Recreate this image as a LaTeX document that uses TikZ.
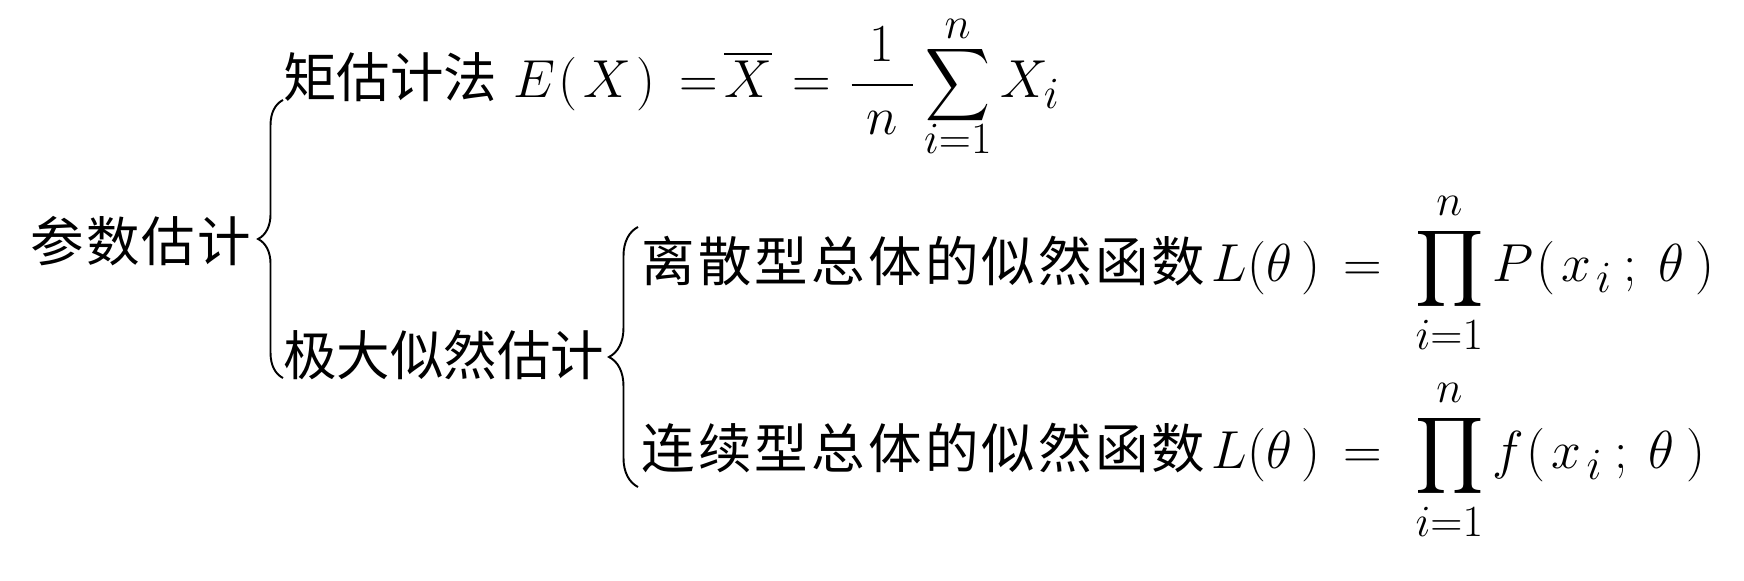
\documentclass[tikz,border=0pt]{standalone}
\usepackage{amsmath}
\usepackage{fontspec}
\newfontfamily\cjk{Noto Sans CJK SC}
\newfontfamily\cjkroot[LetterSpace=4]{Noto Sans CJK SC}
\newfontfamily\cjkwide[LetterSpace=6]{Noto Sans CJK SC}
\usetikzlibrary{decorations.pathreplacing}
\newcommand{\smallsum}{\mathop{\vcenter{\hbox{\scalebox{0.84}[0.95]{$\displaystyle\sum$}}}}\limits}
\newcommand{\lowlim}[1]{\smash{\raisebox{2pt}{$\scriptstyle #1$}}}
\newcommand{\uplim}[1]{\smash{\raisebox{-2.5pt}{$\scriptstyle #1$}}}
\tikzset{
  txt/.style={inner sep=0pt, font=\Huge\cjk},
  bracestyle/.style={decorate, decoration={brace, amplitude=#1, aspect=0.5}, line width=0.9pt},
}
\begin{document}
\begin{tikzpicture}[x=0.465pt, y=-0.465pt]
\useasboundingbox (0,0) rectangle (1744,581);
% root
\node[txt, anchor=west, font=\Huge\cjkroot] (root) at (30,241) {参数估计};
% level 1
\node[txt, anchor=base west] (moment) at (283,98) {矩估计法\hspace{0.3em}$E\mkern1mu(\mkern2mu X\mkern2mu)\mkern8mu{=}\mkern2mu\overline{X}\mkern7mu{=}\mkern6mu\dfrac{\mkern5mu 1\mkern5mu}{\mkern5mu n\mkern5mu}\smallsum_{\lowlim{i=1}}^{\uplim{n}}X_i$};
\node[txt, anchor=west] (mle) at (283,355) {极大似然估计};
% level 2
\node[txt, anchor=base west, font=\Huge\cjkwide] (disc) at (641,282) {离散型总体的似然函数\hspace{0.12em}$L(\theta\mkern3mu)\mkern8mu{=}\mkern8mu\displaystyle\prod_{i=1}^{n}P\mkern1mu(\mkern2mu x_{\mkern2mu i}\mkern4mu;\mkern4mu\theta\mkern4mu)$};
\node[txt, anchor=base west, font=\Huge\cjkwide] (cont) at (641,469) {连续型总体的似然函数\hspace{0.12em}$L(\theta\mkern3mu)\mkern8mu{=}\mkern8mu\displaystyle\prod_{i=1}^{n}f\mkern1mu(\mkern2mu x_{\mkern2mu i}\mkern4mu;\mkern4mu\theta\mkern4mu)$};
% brace coordinates
\coordinate (b1top) at (283,100);
\coordinate (b1bot) at (283,378);
\coordinate (b2top) at (638,227);
\coordinate (b2bot) at (638,487);
\draw[bracestyle=11.6pt] (b1bot) -- (b1top);
\draw[bracestyle=13.5pt] (b2bot) -- (b2top);
\end{tikzpicture}
\end{document}
